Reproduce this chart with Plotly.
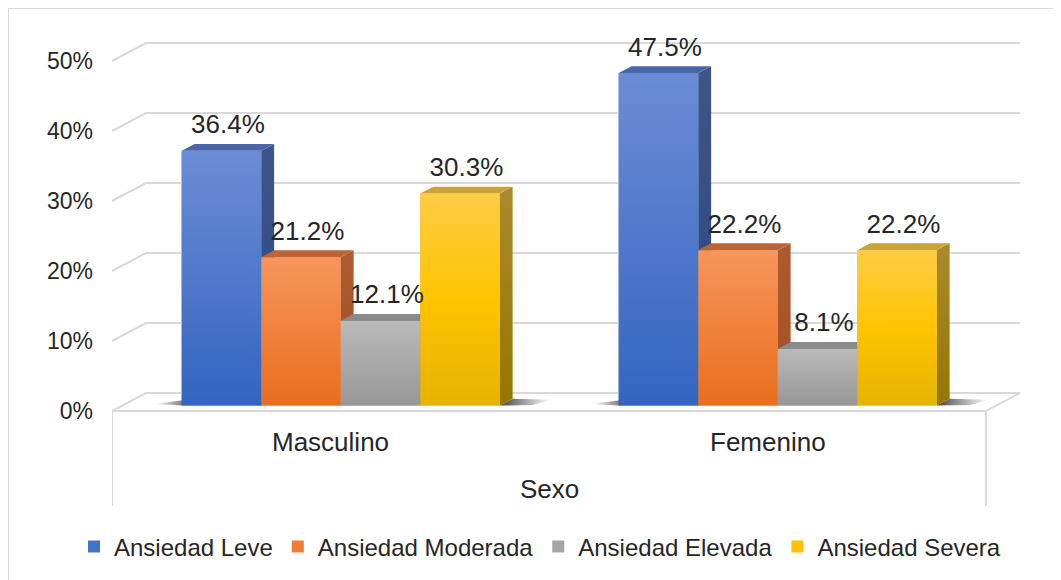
import plotly.graph_objects as go

# ---------------- data ----------------
categories = ["Masculino", "Femenino"]
series_names = ["Ansiedad Leve", "Ansiedad Moderada", "Ansiedad Elevada", "Ansiedad Severa"]
leve = [36.4, 47.5]
moderada = [21.2, 22.2]
elevada = [12.1, 8.1]
severa = [30.3, 22.2]
y_ticks = [0, 10, 20, 30, 40, 50]
y_tick_labels = ["0%", "10%", "20%", "30%", "40%", "50%"]
axis_title = "Sexo"

series_values = [leve, moderada, elevada, severa]

# ---------------- styles ----------------
FONT = "Arial, Liberation Sans, sans-serif"
TXT = "#262626"
GRID = "#d9d9d9"
legend_colors = ["#4472c4", "#ed7d31", "#a5a5a5", "#ffc000"]
front_scales = [
    [[0, "#3365c0"], [1, "#6b8cd6"]],
    [[0, "#e96e1d"], [1, "#f7955c"]],
    [[0, "#979797"], [1, "#bababa"]],
    [[0, "#e6b300"], [0.5, "#ffc400"], [1, "#ffcc45"]],
]
side_scales = [
    [[0, "#2a4682"], [1, "#3f5589"]],
    [[0, "#a04e22"], [1, "#ad5b30"]],
    [[0, "#757575"], [1, "#858585"]],
    [[0, "#957600"], [1, "#a98a2e"]],
]
top_colors = ["#4a66a8", "#bb6434", "#8a8a8a", "#c9a23c"]

# ---------------- geometry ----------------
# The page body has an 8px margin, so the figure is drawn 8px smaller and
# every window-pixel position is shifted by OFF.
OFF = 8
W, H = 1061 - OFF, 580 - OFF
L = 112 - OFF
T = 25 - OFF
PLOT_RIGHT = 1022 - OFF
PLOT_BOTTOM = 510 - OFF
R = W - PLOT_RIGHT
B = H - PLOT_BOTTOM
PXX = 437.0            # pixels per category unit
PXY = 7.0              # pixels per percentage point
FLOOR_PX = 411 - OFF   # pixel row of y = 0 on the front edge
plot_w = W - L - R
plot_h = H - T - B
x_range = [-0.5, -0.5 + plot_w / PXX]
y_range = [-(PLOT_BOTTOM - FLOOR_PX) / PXY, (FLOOR_PX - T) / PXY]

def py_val(py_window):
    return -(py_window - OFF - FLOOR_PX) / PXY

DX = 34 / PXX          # floor depth (x)
DY = 18 / PXY          # floor depth (y)
F0 = 0.30              # depth of the bar front plane
FD = 0.38              # bar depth
BW = 79.5 / PXX        # bar width
ns = len(series_names)
n_cat = len(categories)
x_left, x_right = -0.5, n_cat - 0.5
box_bottom = py_val(506)

fig = go.Figure()

def line(xs, ys, color=GRID, width=2):
    fig.add_trace(go.Scatter(x=xs, y=ys, mode="lines", line=dict(color=color, width=width),
                             hoverinfo="skip", showlegend=False))

# gridlines (left wall + back wall)
for v in y_ticks:
    line([x_left, x_left + DX, x_right + DX], [v, v + DY, v + DY])
# floor front + right edge
line([x_left, x_right, x_right + DX], [0, 0, DY])
# category box
line([x_left, x_left], [0, box_bottom])
line([x_right, x_right], [0, box_bottom])

base = F0 * DY
shift_x = F0 * DX

# real bars (front faces, give the legend)
for i, (name, vals) in enumerate(zip(series_names, series_values)):
    xc = [j + shift_x + (i - (ns - 1) / 2) * BW for j in range(n_cat)]
    fig.add_trace(go.Bar(x=xc, y=vals, base=[base] * n_cat, width=BW, name=name,
                         marker=dict(color=legend_colors[i], line=dict(width=0)),
                         hoverinfo="skip"))

bdx, bdy = FD * DX, FD * DY

def poly(xs, ys, fillcolor=None, grad=None, gtype="vertical"):
    kw = dict(x=xs + [xs[0]], y=ys + [ys[0]], mode="lines", fill="toself",
              line=dict(width=0), hoverinfo="skip", showlegend=False)
    if grad is not None:
        kw["fillgradient"] = dict(type=gtype, colorscale=grad)
    else:
        kw["fillcolor"] = fillcolor
    fig.add_trace(go.Scatter(**kw))

# shadows on the floor
for j in range(n_cat):
    xl0 = j + shift_x - ns / 2 * BW
    xr0 = j + shift_x + ns / 2 * BW
    poly([xl0 - 28 / PXX, xl0, xl0 + bdx, xl0 - 20 / PXX],
         [base + 1.5 / PXY, base, base + bdy, base + 3 / PXY],
         grad=[[0, "rgba(80,80,80,0)"], [1, "rgba(40,40,40,0.9)"]], gtype="horizontal")
    poly([xr0, xr0 + bdx, xr0 + bdx + 40 / PXX, xr0 + bdx + 20 / PXX],
         [base, base + bdy, base + bdy - 1 / PXY, base + 0.5 / PXY],
         grad=[[0, "rgba(40,40,40,0.9)"], [1, "rgba(80,80,80,0)"]], gtype="horizontal")

# 3D faces, drawn left to right
for j in range(n_cat):
    for i in range(ns):
        v = series_values[i][j]
        xl = j + shift_x + (i - ns / 2) * BW
        xr = xl + BW
        top = base + v
        poly([xr, xr + bdx, xr + bdx, xr], [base, base + bdy, top + bdy, top], grad=side_scales[i])
        poly([xl, xr, xr + bdx, xl + bdx], [top, top, top + bdy, top + bdy], fillcolor=top_colors[i])
        poly([xl, xr, xr, xl], [base, base, top, top], grad=front_scales[i])

# data labels
for i in range(ns):
    xs = [j + shift_x + (i - (ns - 1) / 2) * BW + bdx / 2 for j in range(n_cat)]
    ys = [base + v + 24 / PXY for v in series_values[i]]
    fig.add_trace(go.Scatter(x=xs, y=ys, mode="text", text=[f"{v:.1f}%" for v in series_values[i]],
                             textposition="middle center",
                             textfont=dict(family=FONT, size=26, color=TXT),
                             hoverinfo="skip", showlegend=False))

# category labels and axis title
for j, c in enumerate(categories):
    fig.add_annotation(x=j, y=py_val(442), text=c, showarrow=False,
                       font=dict(family=FONT, size=26, color=TXT), xanchor="center", yanchor="middle")
fig.add_annotation(x=(x_left + x_right) / 2, y=py_val(489), text=axis_title, showarrow=False,
                   font=dict(family=FONT, size=26, color=TXT), xanchor="center", yanchor="middle")

def px_to_paper_x(px_window):
    return (px_window - OFF - L) / plot_w

def px_to_paper_y(py_window):
    return (PLOT_BOTTOM - (py_window - OFF)) / plot_h

fig.add_shape(type="rect", xref="paper", yref="paper",
              x0=px_to_paper_x(8), x1=px_to_paper_x(1090), y0=px_to_paper_y(620), y1=px_to_paper_y(8),
              line=dict(color=GRID, width=2), fillcolor="rgba(0,0,0,0)", layer="below")

fig.update_layout(
    width=W, height=H,
    margin=dict(l=L, r=R, t=T, b=B, pad=0, autoexpand=False),
    paper_bgcolor="white", plot_bgcolor="white",
    barmode="overlay",
    font=dict(family=FONT, color=TXT),
    xaxis=dict(range=x_range, visible=False, fixedrange=True, automargin=False),
    yaxis=dict(range=y_range, tickvals=y_ticks, ticktext=y_tick_labels, showgrid=False,
               zeroline=False, showline=False, ticks="", ticklabelstandoff=18, automargin=False,
               tickfont=dict(family=FONT, size=23, color=TXT), fixedrange=True),
    legend=dict(orientation="h", x=px_to_paper_x(74), xanchor="left",
                y=px_to_paper_y(547), yanchor="middle", itemwidth=30,
                font=dict(family=FONT, size=24, color=TXT), bgcolor="rgba(0,0,0,0)"),
    showlegend=True,
)

fig.write_html("out.html")
